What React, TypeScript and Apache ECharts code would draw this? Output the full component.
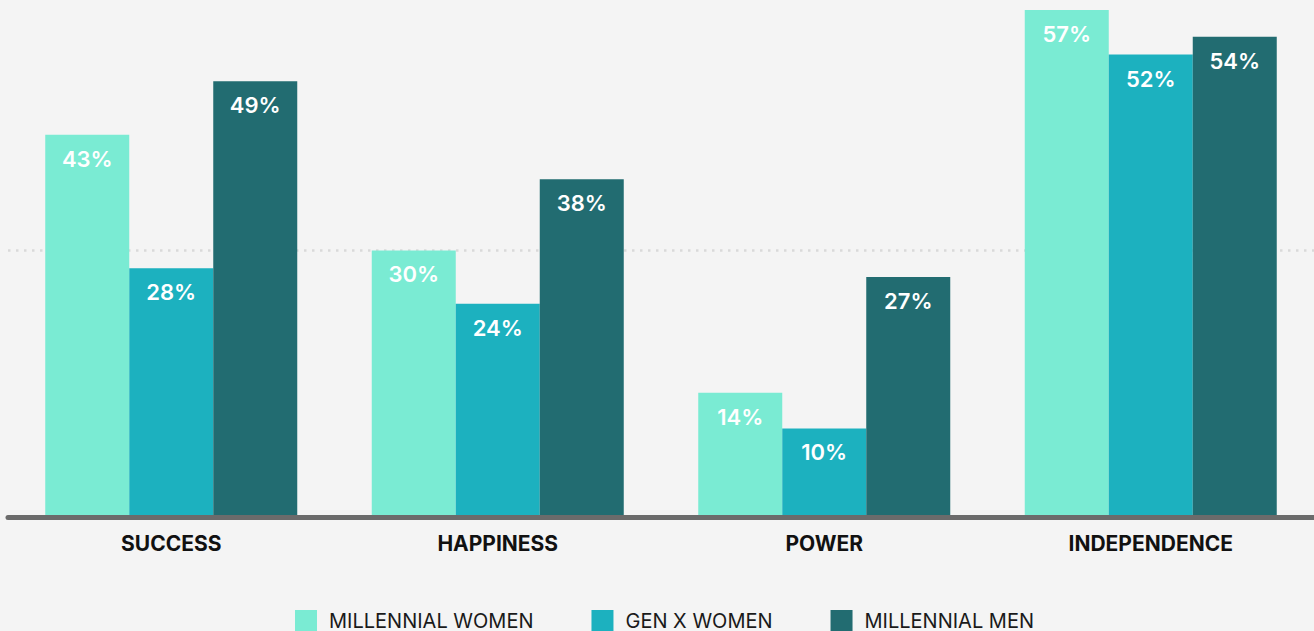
import React, { useEffect, useRef } from "react";
import * as echarts from "echarts";

const categories = ["SUCCESS", "HAPPINESS", "POWER", "INDEPENDENCE"];
const seriesNames = ["MILLENNIAL WOMEN", "GEN X WOMEN", "MILLENNIAL MEN"];
const millennialWomen = [43, 30, 14, 57];
const genXWomen = [28, 24, 10, 52];
const millennialMen = [49, 38, 27, 54];
const referenceLine = 30;
const colors = ["#7aebd3", "#1cb1bf", "#226c71"];

export default function App() {
  const ref = useRef<HTMLDivElement>(null);
  useEffect(() => {
    document.body.style.margin = "0";
    document.body.style.background = "#f4f4f4";
    const chart = echarts.init(ref.current!, null, { renderer: "svg" });
    const font = "Inter, Lato, 'Noto Sans', sans-serif";
    const values = [millennialWomen, genXWomen, millennialMen];
    chart.setOption({
      animation: false,
      backgroundColor: "#f4f4f4",
      textStyle: { fontFamily: font },
      grid: { left: 8, right: 0, top: 10, bottom: 113.5, containLabel: false },
      legend: {
        top: 610,
        left: 290,
        padding: [0, 5],
        itemWidth: 22,
        itemHeight: 22,
        itemGap: 58,
        icon: "rect",
        textStyle: { fontSize: 20, color: "#1a1a1a", fontFamily: font, padding: [0, 0, 6, 7] },
        data: seriesNames,
      },
      xAxis: {
        type: "category",
        data: categories,
        z: 5,
        axisLine: { show: true, lineStyle: { color: "#6b6b6b", width: 5 } },
        axisTick: { show: false },
        axisLabel: { fontSize: 21, fontWeight: "bold", color: "#111", margin: 15, fontFamily: font },
      },
      yAxis: {
        type: "value",
        min: 0,
        max: 57,
        show: false,
        splitLine: { show: false },
      },
      series: values.map((v, i) => ({
        name: seriesNames[i],
        type: "bar",
        data: v,
        barWidth: 84,
        barGap: "0%",
        itemStyle: { color: colors[i] },
        label: {
          show: true,
          position: "insideTop",
          distance: 13,
          formatter: "{c}%",
          color: "#fff",
          fontSize: 22,
          fontWeight: 600,
          fontFamily: font,
        },
        markLine:
          i === 0
            ? {
                silent: true,
                symbol: "none",
                label: { show: false },
                lineStyle: { color: "#d9d9d9", width: 2.5, type: [2.5, 5.5] },
                data: [{ yAxis: referenceLine }],
                z: 0,
              }
            : undefined,
      })),
    });
    return () => chart.dispose();
  }, []);
  return <div ref={ref} style={{ width: 1314, height: 631 }} />;
}
